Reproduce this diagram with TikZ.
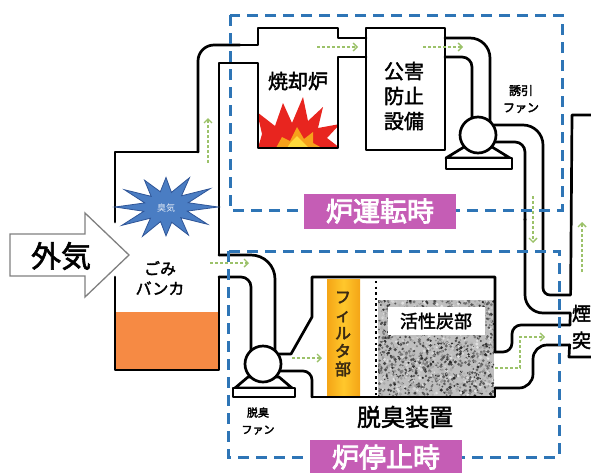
\documentclass[tikz,border=0pt]{standalone}
\usepackage{fontspec}
\setmainfont{Noto Sans CJK JP}
\newfontfamily\jpm[FakeBold=2]{Noto Sans CJK JP}
\newfontfamily\jpb[FakeBold=3]{Noto Sans CJK JP}
\usetikzlibrary{arrows.meta}
\definecolor{zoneblue}{HTML}{2E75B6}
\definecolor{flowgreen}{HTML}{9CC26A}
\definecolor{tagpink}{HTML}{C55DB5}
\definecolor{starblue}{HTML}{4A7DC3}
\definecolor{starline}{HTML}{2F5597}
\definecolor{wasteorange}{HTML}{F68A44}
\definecolor{amberA}{HTML}{F4A516}
\definecolor{amberB}{HTML}{FFC72C}
\definecolor{flamered}{HTML}{E8251F}
\definecolor{flameorange}{HTML}{F6A11B}
\definecolor{flameyellow}{HTML}{FFD93B}
\definecolor{kanaink}{HTML}{3B2A12}

\begin{document}
\begin{tikzpicture}[x=1pt,y=-1pt,
  wall/.style={line width=2.7pt, line cap=round, line join=round},
  zone/.style={draw=zoneblue, line width=3pt, dash pattern=on 11pt off 7pt},
  flow/.style={draw=flowgreen, line width=1.4pt, dash pattern=on 3pt off 2pt,
    -{Straight Barb[length=4pt,width=8pt,line width=1.4pt]}},
  tag/.style={fill=tagpink, text=white, font=\jpb\fontsize{27}{27}\selectfont,
    inner sep=0pt, minimum width=152pt, minimum height=35pt},
  lbl/.style={inner sep=0pt, align=center}]

\useasboundingbox (0,0) rectangle (591,472);

% ---------- fills behind the walls ----------
% waste pile in the bunker
\fill[wasteorange] (115,312) rectangle (219,370);

% flame inside the incinerator
\begin{scope}
  \clip (258,28) rectangle (338,148);
  \fill[flamered] (258,148) -- (262,134) -- (257,112) -- (275,126) -- (283,103)
    -- (292,123) -- (303,97) -- (308,121) -- (323,107) -- (318,128) -- (340,124)
    -- (327,138) -- (340,148) -- cycle;
  \fill[flameorange] (276,148) -- (282,137) -- (290,141) -- (297,127) -- (304,139)
    -- (313,132) -- (313,143) -- (322,148) -- cycle;
  \fill[flameyellow] (287,148) -- (291,142) -- (297,136) -- (303,142) -- (309,148) -- cycle;
\end{scope}

% filter layer
\shade[left color=amberA, right color=amberA, middle color=amberB]
  (327,279) rectangle (360,396);

% activated carbon bed
\begin{scope}
  \clip (378,300) rectangle (494,396);
  \fill[gray!50] (378,300) rectangle (494,396);
  \pgfmathsetseed{12}
  \foreach \i in {1,...,1600}{
    \pgfmathsetmacro{\px}{378+116*rnd}
    \pgfmathsetmacro{\py}{300+96*rnd}
    \pgfmathtruncatemacro{\gv}{10+75*rnd}
    \pgfmathsetmacro{\rr}{0.7+1.1*rnd}
    \fill[black!\gv!white] (\px,\py) circle[radius=\rr];
  }
\end{scope}

% separation between filter and carbon bed
\draw[line width=2.6pt, dash pattern=on 2.4pt off 3.2pt] (376,281) -- (376,396);

% ---------- walls ----------
% bunker and duct up to the incinerator
\draw[wall] (115,222) -- (115,152) -- (198,152);
\draw[wall, rounded corners=16] (198,152) -- (198,45) -- (240,45);
\draw[wall] (239,45) -- (258,45) -- (258,28) -- (338,28) -- (338,38) -- (366,38);
\draw[wall] (366,57) -- (338,57) -- (338,148) -- (258,148) -- (258,63) -- (219,63) -- (219,255);
\draw[wall] (219,277) -- (219,370) -- (115,370) -- (115,277);

% pollution control unit
\draw[wall] (366,28) rectangle (445,150);

% duct to the induced draft fan
\draw[wall, rounded corners=20] (445,38) -- (490,38) -- (490,122);
\draw[wall, rounded corners=10] (445,57) -- (472,57) -- (472,119);

% induced draft fan
\draw[wall, fill=white] (464,147) -- (492,147) -- (510,158) -- (446,158) -- cycle;
\draw[wall, fill=white] (446,158) rectangle (512,169);
\draw[wall, fill=white] (478,135) circle[radius=18];

% duct from induced draft fan to the stack
\draw[wall, rounded corners=20] (494,125) -- (543,125) -- (543,210);
\draw[wall, rounded corners=7] (543,209) -- (543,295) -- (570,295);
\draw[wall, rounded corners=10] (495,142) -- (525,142) -- (525,220);
\draw[wall, rounded corners=18] (525,219) -- (525,313) -- (570,313);

% stack
\draw[wall] (600,115) -- (572,115) -- (570.6,295);
\draw[wall] (570.2,313) -- (570,325);
\draw[wall] (569.6,345) -- (569,357) -- (600,357);

% duct from bunker to deodorizing fan
\draw[wall, rounded corners=24] (219,255) -- (275,255) -- (275,352);
\draw[wall, rounded corners=10] (219,277) -- (251,277) -- (251,352);

% deodorizing fan
\draw[wall, fill=white] (248,377) -- (279,377) -- (292,388) -- (235,388) -- cycle;
\draw[wall, fill=white] (233,388) rectangle (295,397);
\draw[wall, fill=white] (263,364) circle[radius=18];

% deodorizer housing
\draw[wall] (279,354) -- (291,354) -- (312,317) -- (312,277) -- (495,277) -- (495,352);
\draw[wall, rounded corners=9] (280,371) -- (312,371) -- (312,397);
\draw[wall] (312,397) -- (495,397) -- (495,388);

% duct from deodorizer to the stack
\draw[wall, rounded corners=9] (495,352) -- (512,352) -- (512,325) -- (570,325);
\draw[wall, rounded corners=14] (495,388) -- (533,388) -- (533,345) -- (570,345);

% ---------- odour burst in the bunker ----------
\begin{scope}[shift={(166,207)}, yscale=0.72]
  \filldraw[fill=starblue, draw=starline, line width=0.8pt]
    (0:52) \foreach \a/\r in {
      15/22, 30/48, 45/21, 60/45, 75/22, 90/40, 105/21, 120/47, 135/22,
      150/51, 165/23, 180/51, 195/22, 210/48, 225/21, 240/43, 255/22,
      270/41, 285/21, 300/47, 315/22, 330/51, 345/23}
      { -- (\a:\r) } -- cycle;
\end{scope}
\node[lbl, font=\fontsize{9}{9}\selectfont, text=white!85!starblue] (odor) at (166,208) {臭気};

% ---------- outside air arrow ----------
\filldraw[fill=white, draw=gray, line width=1.3pt]
  (10,234) -- (85,234) -- (85,213) -- (129,255) -- (85,297) -- (85,276) -- (10,276) -- cycle;
\node[lbl, font=\jpm\fontsize{30}{30}\selectfont] (air) at (61,256) {外気};

% ---------- gas flow ----------
\draw[flow] (208,163) -- (208,118);
\draw[flow] (317,47) -- (358,47);
\draw[flow] (423,47) -- (463,47);
\draw[flow] (533,196) -- (533,243);
\draw[flow] (582,272) -- (582,222);
\draw[flow] (210,263) -- (249,263);
\draw[flow] (292,358) -- (322,358);
\draw[flow] (495,368) -- (520,368) -- (520,337) -- (545,337);

% ---------- operating zones ----------
\draw[zone] (230,15) rectangle (562,210);
\draw[zone] (228,251) rectangle (559,457);

% ---------- labels ----------
\node[lbl, font=\jpm\fontsize{16}{20}\selectfont] (bunker) at (160,278) {ごみ\\バンカ};
\node[lbl, font=\jpm\fontsize{20}{20}\selectfont] (furnace) at (298,81) {焼却炉};
\node[lbl, font=\jpm\fontsize{20}{25}\selectfont] (apc) at (404,96) {公害\\防止\\設備};
\node[lbl, font=\jpb\fontsize{12}{17}\selectfont] (idf) at (521,99) {誘引\\ファン};
\node[lbl, font=\jpb\fontsize{11}{17}\selectfont] (dfan) at (258,421) {脱臭\\ファン};
\node[lbl, font=\jpb\fontsize{16}{18}\selectfont, text=kanaink] (filter) at (343,334) {フ\\ィ\\ル\\タ\\部};
\node[fill=white, inner sep=0pt, minimum width=97pt, minimum height=28pt,
  font=\jpm\fontsize{18}{18}\selectfont] (carbon) at (436,321) {活性炭部};
\node[lbl, font=\jpm\fontsize{24}{24}\selectfont] (deod) at (405,417) {脱臭装置};
\node[lbl, font=\jpm\fontsize{19}{27}\selectfont] (stack) at (581.5,327) {煙\\突};

\node[tag] (run) at (380,211) {炉運転時};
\node[tag] (stop) at (386,457) {炉停止時};

\end{tikzpicture}
\end{document}
